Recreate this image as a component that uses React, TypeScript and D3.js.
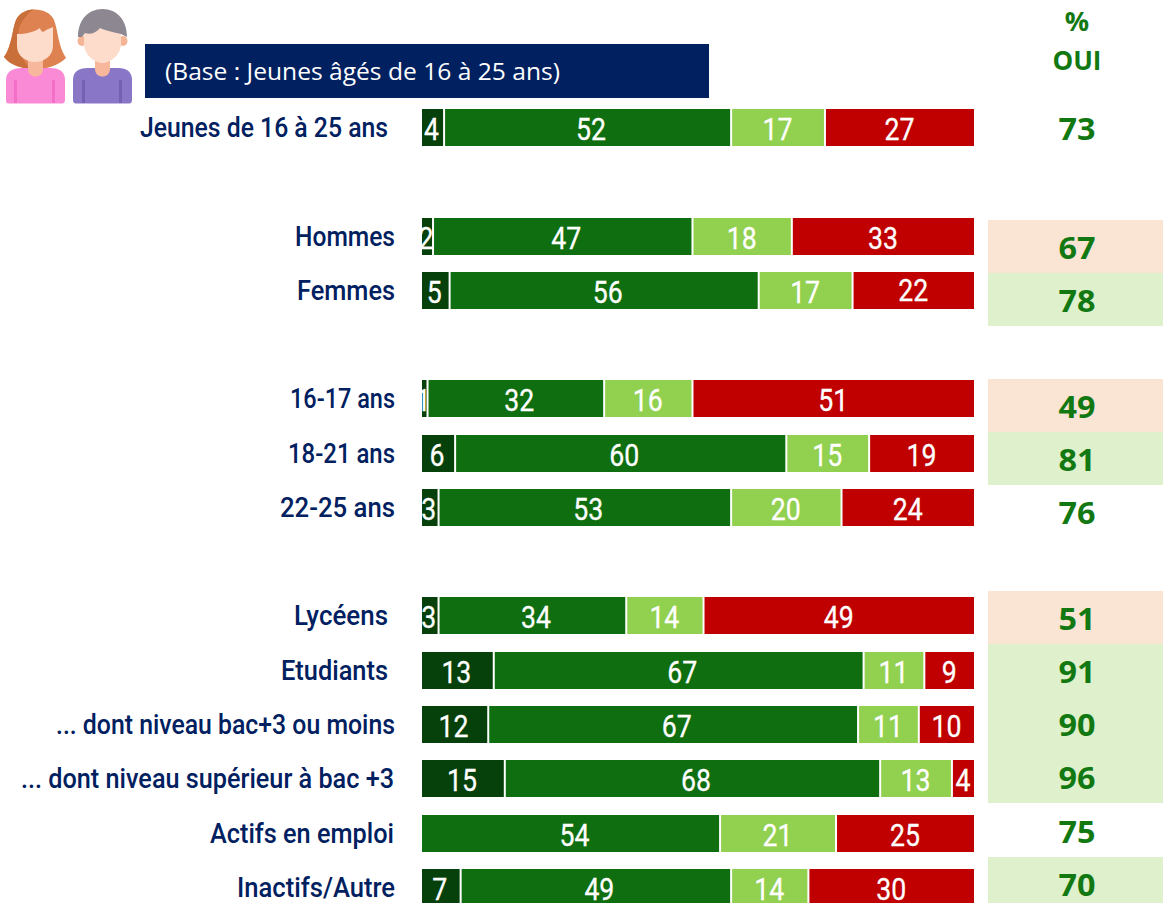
import React from "react";
import * as d3 from "d3";

const categories = ["Jeunes de 16 à 25 ans","Hommes","Femmes","16-17 ans","18-21 ans","22-25 ans","Lycéens","Etudiants","... dont niveau bac+3 ou moins","... dont niveau supérieur à bac +3","Actifs en emploi","Inactifs/Autre"];
const seriesA = [4,2,5,1,6,3,3,13,12,15,0,7];
const seriesB = [52,47,56,32,60,53,34,67,67,68,54,49];
const seriesC = [17,18,17,16,15,20,14,11,11,13,21,14];
const seriesD = [27,33,22,51,19,24,49,9,10,4,25,30];
const oui = [73,67,78,49,81,76,51,91,90,96,75,70];
const highlight = ["","low","high","low","high","","low","high","high","high","","high"];
const colors = ["#06400a","#0f6e10","#92d050","#c00000"];
const labelShift = [-1.5,3.5,-0.5,0];

const rowTop = [109,218,272,380,435,489,597,652,706,760,815,869];
const ouiY = [129,248,301,407,460,513,619,672,725,778,832,885];
const labelRight = [388,395,395,395,395,395,388,388,395,394,394,395];
const labelWidth = [248,100,98,105,107,115,94,107,339,373,184,158];
const barH = 37;

export default function App() {
  const x = d3.scaleLinear().domain([0, 100]).range([422, 974]);
  const rows = categories.map((c, i) => {
    const vals = [seriesA[i], seriesB[i], seriesC[i], seriesD[i]];
    const stack = d3.cumsum(vals);
    const total = stack[3];
    return { c, i, segs: vals.map((v, k) => ({ v, k, x0: x((stack[k] - v) * 100 / total), x1: x(stack[k] * 100 / total) })) };
  });
  return (
    <svg width={1163} height={903} style={{ position: "absolute", left: 0, top: 0, background: "#fff" }}>
      {/* people icons */}
      <g>
        <path d="M4 57 C12 46 12 30 16 20 C22 6 48 6 54 20 C58 30 58 46 66 58 C58 66 46 69 36 69 C24 69 10 66 4 57Z" fill="#dd8250"/>
        <path d="M4 57 C12 46 12 30 16 20 C20 12 27 10 34 9 C24 16 18 26 18 36 C18 50 22 60 30 69 C20 68 10 64 4 57Z" fill="#c96f3a"/>
        <path d="M6 80 C6 72 12 68 22 68 L50 68 C60 68 65 72 65 80 L65 100 C65 103 63 103.500 61 103.500 L10 103.500 C7 103.500 6 103 6 100Z" fill="#fb8ad6"/>
        <rect x={14} y={80} width={3} height={23} fill="#f470c8"/>
        <rect x={52} y={80} width={3} height={23} fill="#f470c8"/>
        <path d="M28 58 L43 58 L43 69 C43 79 28 79 28 69Z" fill="#f6b79c"/>
        <path d="M17 34 C26 34 34 32 40 28 C41 32 43 33 46 30 L53 27 L53 46 C53 56 44 62 35 62 C26 62 17 56 17 46Z" fill="#fddccb"/>

        <ellipse cx="82" cy="41" rx="4.500" ry="5" fill="#f5b595"/>
        <ellipse cx="123" cy="41" rx="4.500" ry="5" fill="#f5b595"/>
        <path d="M73 80 C73 72 78 68 88 68 L118 68 C127 68 132 72 132 80 L132 100 C132 103 130 103.500 128 103.500 L77 103.500 C75 103.500 73 103 73 100Z" fill="#8a76c6"/>
        <rect x={82} y={80} width={3} height={23} fill="#7560b4"/>
        <rect x={119} y={80} width={3} height={23} fill="#7560b4"/>
        <path d="M95 58 L110 58 L110 69 C110 79 95 79 95 69Z" fill="#f6b79c"/>
        <path d="M84 26 L121 26 L121 44 C121 54 111 63 102.500 63 C94 63 84 54 84 44Z" fill="#fddccb"/>
        <path d="M78 37 C78 20 88 9 102.500 9 C117 9 127 20 127 37 L121 34 C112 32 104 30 100 28 C96 33 90 35 85 33 L82 37Z" fill="#8c8791"/>
      </g>
      <rect x={145} y={44} width={564} height={54} fill="#00205f"/>
      <text x={165} y={80} fontFamily="'Open Sans', sans-serif" fontSize={23} fill="#fff" textLength={395} lengthAdjust="spacingAndGlyphs">(Base : Jeunes âgés de 16 à 25 ans)</text>
      <text x={1077} y={31} textAnchor="middle" fontFamily="'Open Sans', sans-serif" fontWeight={700} fontSize={27} fill="#127812">%</text>
      <text x={1077} y={70} textAnchor="middle" fontFamily="'Open Sans', sans-serif" fontWeight={700} fontSize={26} fill="#127812">OUI</text>
      {rows.map(({ c, i, segs }) => (
        <g key={c}>
          <text x={labelRight[i]} y={rowTop[i] + 28} textAnchor="end" fontFamily="Roboto, sans-serif" fontWeight={500} fontSize={27} fill="#00205f" textLength={labelWidth[i]} lengthAdjust="spacingAndGlyphs">{c}</text>
          {segs.filter(s => s.v > 0).map((s) => (
            <g key={s.k}>
              <rect x={s.x0 + (s.x0 > 422 ? 1 : 0)} y={rowTop[i]} width={Math.max(s.x1 - s.x0 - (s.x0 > 422 ? 1 : 0) - (s.k < 3 ? 1 : 0), 1)} height={barH} fill={colors[s.k]}/>
              <text x={(s.x0 + s.x1) / 2 + labelShift[s.k]} y={rowTop[i] + 30.500 - (i === 2 && s.k === 3 ? 2 : 0)} textAnchor="middle" fontFamily="Roboto, sans-serif" fontWeight={400} fontSize={31} fill="#fff" textLength={String(s.v).length * 15} lengthAdjust="spacingAndGlyphs" stroke="#fff" strokeWidth={0.3}>{s.v}</text>
            </g>
          ))}
          {highlight[i] && <rect x={988} y={ouiY[i] - 28} width={175} height={53} fill={highlight[i] === "low" ? "#fae4d4" : "#dff0cc"}/>}
          <text x={1077} y={ouiY[i] + 11} textAnchor="middle" fontFamily="'Open Sans', sans-serif" fontWeight={700} fontSize={30} fill="#127812" textLength={37} lengthAdjust="spacingAndGlyphs">{oui[i]}</text>
        </g>
      ))}
    </svg>
  );
}
